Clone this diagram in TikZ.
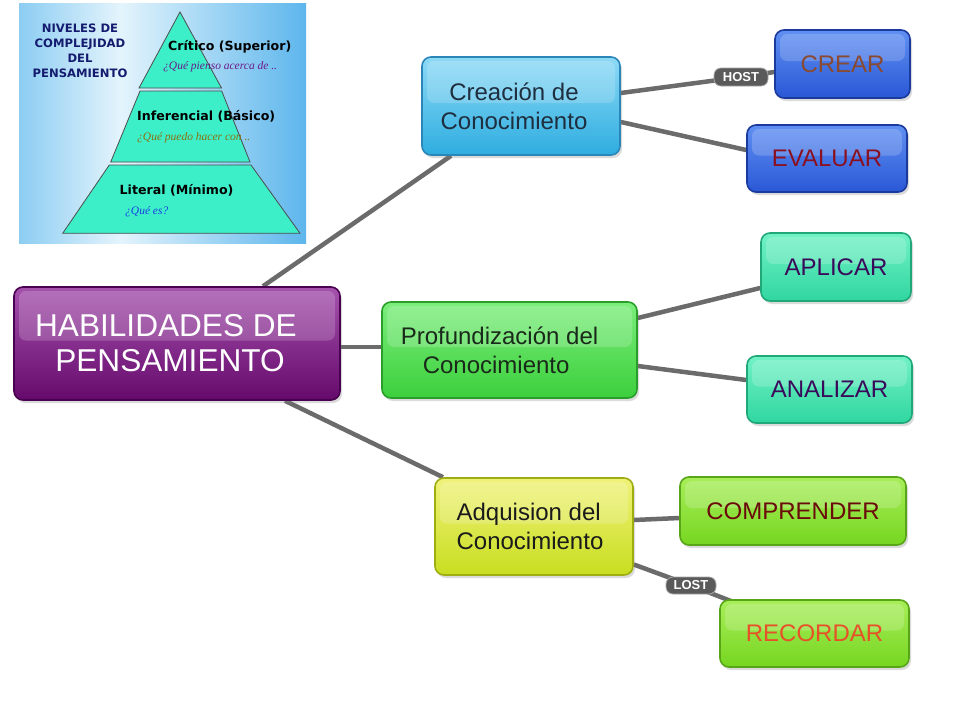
\documentclass[tikz,border=0pt]{standalone}
\usepackage{fontspec}
\setmainfont{Liberation Sans}
\newfontfamily\serifit{Liberation Serif}
\newfontfamily\pyrfont{DejaVu Sans}
\usetikzlibrary{shadows,backgrounds,calc}

\definecolor{edgegray}{HTML}{6B6B6B}
\definecolor{tagfill}{HTML}{5A5A5A}
\definecolor{pyrfill}{HTML}{3DEFC9}
\definecolor{bgLeft}{HTML}{8CCDF2}
\definecolor{bgLight}{HTML}{E4F4FC}
\definecolor{bgRight}{HTML}{5DB6EC}
\definecolor{ptitlec}{HTML}{141A6E}
\definecolor{qcritc}{HTML}{6A1A8A}
\definecolor{qinfc}{HTML}{8A7010}
\definecolor{qlitc}{HTML}{1A40E0}
% main
\definecolor{mainT}{HTML}{A552AD}\definecolor{mainB}{HTML}{650A6C}\definecolor{mainD}{HTML}{4A0050}
% blue level
\definecolor{cyanT}{HTML}{8EDAF6}\definecolor{cyanB}{HTML}{2EADE0}\definecolor{cyanD}{HTML}{2A86B8}\definecolor{cyanX}{HTML}{1E2E3E}
\definecolor{blueT}{HTML}{6090F2}\definecolor{blueB}{HTML}{2A58D6}\definecolor{blueD}{HTML}{1A3A9E}
\definecolor{crearX}{HTML}{8A4A30}\definecolor{evalX}{HTML}{8A1020}
% green level
\definecolor{grT}{HTML}{7CEE7C}\definecolor{grB}{HTML}{3CCF3C}\definecolor{grD}{HTML}{2A9E2A}\definecolor{grX}{HTML}{1A2A1A}
\definecolor{tqT}{HTML}{72F2C6}\definecolor{tqB}{HTML}{30D6A0}\definecolor{tqD}{HTML}{20A878}\definecolor{tqX}{HTML}{3A0A5A}
% yellow level
\definecolor{ylT}{HTML}{F0F27A}\definecolor{ylB}{HTML}{C8DE20}\definecolor{ylD}{HTML}{9EAE10}\definecolor{ylX}{HTML}{1A1A1A}
\definecolor{lmT}{HTML}{A8EE5A}\definecolor{lmB}{HTML}{76D620}\definecolor{lmD}{HTML}{58A618}
\definecolor{compX}{HTML}{6A0A0A}\definecolor{recX}{HTML}{E8502A}

\tikzset{
  x=1pt, y=-1pt,
  box/.style={rounded corners=9pt, line width=1.6pt, align=center, inner sep=0pt,
    drop shadow={shadow xshift=2pt, shadow yshift=-3pt, opacity=0.28},
    path picture={\fill[white,opacity=0.18,rounded corners=7pt]
      ([xshift=5pt,yshift=-4pt]path picture bounding box.north west) rectangle
      ([xshift=-5pt,yshift=3pt]path picture bounding box.east);}},
  skin/.style n args={4}{top color=#1, bottom color=#2, draw=#3, text=#4},
  midfont/.style={font=\fontsize{24}{29}\selectfont},
  conn/.style={draw=edgegray, line width=4.5pt},
  tag/.style={fill=tagfill, draw=gray!70, line width=0.8pt, rounded corners=7pt,
    text=white, font=\bfseries\fontsize{13}{13}\selectfont, inner sep=0pt},
  tier/.style={fill=pyrfill, draw=black!70, line width=0.8pt},
  pbold/.style={font=\pyrfont\bfseries\fontsize{12.6}{12.6}\selectfont, anchor=west, inner sep=0pt},
  pital/.style={font=\serifit\itshape\fontsize{11.5}{11.5}\selectfont, anchor=west, inner sep=0pt}
}

\begin{document}
\begin{tikzpicture}
\useasboundingbox (0,0) rectangle (960,720);

% ---------- inset pyramid ----------
\shade[left color=bgLeft, right color=bgLight] (19,3) rectangle (120.5,243);
\shade[left color=bgLight, right color=bgRight] (120,3) rectangle (306,243);
\path[tier] (180,12) -- (221.5,88) -- (139,88) -- cycle;
\path[tier] (140,91) -- (221.7,91) -- (250,162) -- (110.7,162) -- cycle;
\path[tier] (109.3,165) -- (251,165) -- (300,233.3) -- (62.7,233.3) -- cycle;
\node[align=center, text=ptitlec, font=\pyrfont\bfseries\fontsize{11.6}{15}\selectfont, inner sep=0pt]
  (ptitle) at (80,51) {NIVELES DE\\COMPLEJIDAD\\DEL\\PENSAMIENTO};
\node[pbold] (pcrit) at (168,47) {Crítico (Superior)};
\node[pital, text=qcritc] (qcrit) at (163,67) {¿Qué pienso acerca de ..};
\node[pbold] (pinf) at (137,116.5) {Inferencial (Básico)};
\node[pital, text=qinfc] (qinf) at (137,138) {¿Qué puedo hacer con ..};
\node[pbold] (plit) at (119.5,190) {Literal (Mínimo)};
\node[pital, text=qlitc] (qlit) at (125,212) {¿Qué es?};

% ---------- mind map nodes ----------
\node[box, skin={mainT}{mainB}{mainD}{white},
      minimum width=326pt, minimum height=113pt,
      font=\fontsize{31.6}{35}\selectfont] (main) at (177,343.5) {HABILIDADES DE\hspace*{22pt}\\PENSAMIENTO\hspace*{14pt}};

\node[box, skin={cyanT}{cyanB}{cyanD}{cyanX}, midfont,
      minimum width=198pt, minimum height=98pt] (crea) at (521,106) {Creación de\hspace*{14pt}\\Conocimiento\hspace*{14pt}};
\node[box, skin={blueT}{blueB}{blueD}{crearX}, midfont,
      minimum width=135pt, minimum height=68pt] (crear) at (842.5,64) {CREAR};
\node[box, skin={blueT}{blueB}{blueD}{evalX}, midfont,
      minimum width=160pt, minimum height=67pt] (evaluar) at (827,158.5) {EVALUAR};

\node[box, skin={grT}{grB}{grD}{grX}, midfont, align=left,
      minimum width=255pt, minimum height=96pt] (prof) at (509.5,350) {Profundización del\hspace*{20pt}\\\hspace*{22pt}Conocimiento};
\node[box, skin={tqT}{tqB}{tqD}{tqX}, midfont,
      minimum width=150pt, minimum height=68pt] (aplicar) at (836,267) {APLICAR};
\node[box, skin={tqT}{tqB}{tqD}{tqX}, midfont,
      minimum width=165pt, minimum height=67pt] (analizar) at (829.5,389.5) {ANALIZAR};

\node[box, skin={ylT}{ylB}{ylD}{ylX}, midfont, align=left,
      minimum width=198pt, minimum height=97pt] (adq) at (534,526.5) {Adquision del\\Conocimiento\hspace*{8pt}};
\node[box, skin={lmT}{lmB}{lmD}{compX}, midfont,
      minimum width=226pt, minimum height=68pt] (comp) at (793,511) {COMPRENDER};
\node[box, skin={lmT}{lmB}{lmD}{recX}, midfont,
      minimum width=189pt, minimum height=67pt] (recordar) at (814.5,633.5) {RECORDAR};

\node[tag, minimum width=54pt, minimum height=18pt] (host) at (741,77) {HOST};
\node[tag, minimum width=50pt, minimum height=17pt] (lost) at (691,585.5) {LOST};

% ---------- connectors ----------
\begin{pgfonlayer}{background}
\fill[white] (0,0) rectangle (960,720);
\draw[conn] ([xshift=86pt]main.north) -- ([xshift=-70pt]crea.south);
\draw[conn] ([yshift=-3.5pt]main.east) -- ([yshift=3pt]prof.west);
\draw[conn] ([xshift=108pt]main.south) -- ([xshift=-91pt]adq.north);
\draw[conn] ([yshift=13pt]crea.east) -- (host.center) -- ([yshift=-8pt]crear.west);
\draw[conn] ([yshift=-16pt]crea.east) -- ([yshift=8.5pt]evaluar.west);
\draw[conn] ([yshift=32pt]prof.east) -- ([yshift=-21pt]aplicar.west);
\draw[conn] ([yshift=-16pt]prof.east) -- ([yshift=9.5pt]analizar.west);
\draw[conn] ([yshift=6.5pt]adq.east) -- ([yshift=-7pt]comp.west);
\draw[conn] ([yshift=-38pt]adq.east) -- (lost.center) -- (recordar.center);
\end{pgfonlayer}
\end{tikzpicture}
\end{document}
